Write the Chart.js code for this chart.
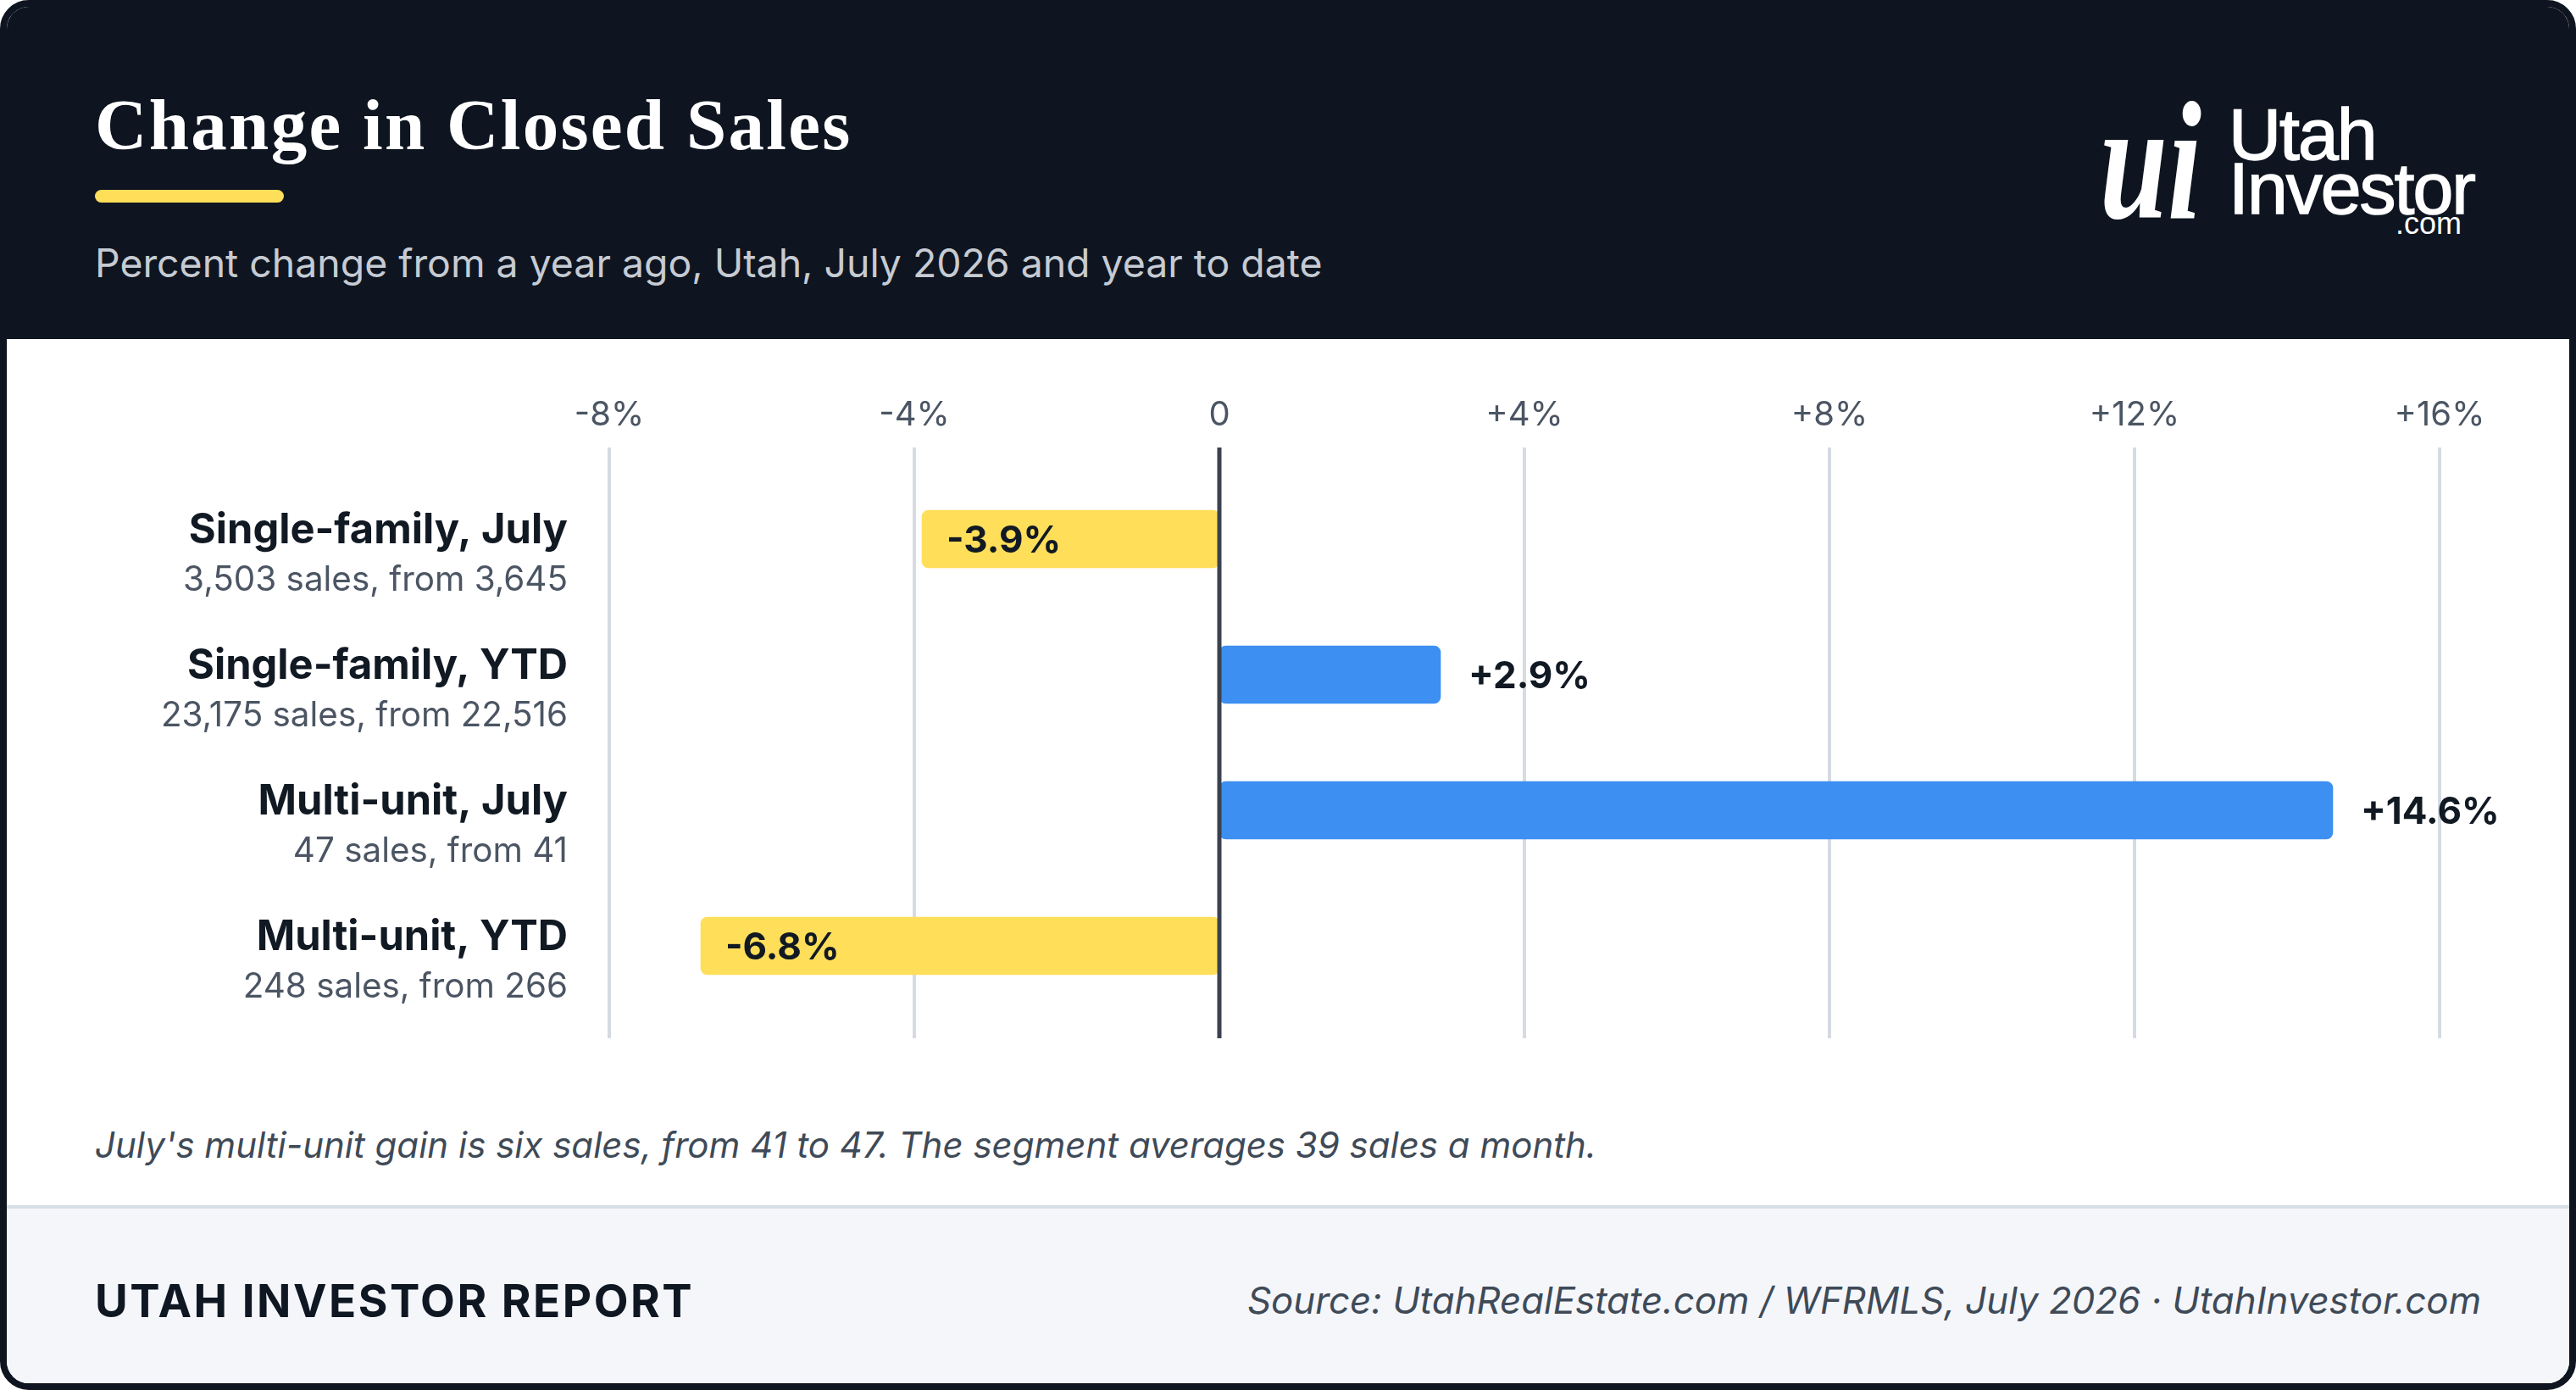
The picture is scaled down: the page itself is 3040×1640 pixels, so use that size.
<!DOCTYPE html>
<html>
<head>
<meta charset="utf-8">
<title>Change in Closed Sales</title>
<script src="https://cdn.jsdelivr.net/npm/chart.js@4.4.1/dist/chart.umd.min.js"></script>
<style>
  html, body { margin: 0; padding: 0; background: #ffffff; }
  body { width: 3040px; height: 1640px; position: relative; overflow: hidden; }
  .card {
    position: absolute; left: 0; top: 0; width: 3040px; height: 1640px;
    box-sizing: border-box; border: 8px solid #0e1520; border-radius: 34px;
    background: #ffffff; overflow: hidden;
  }
  .header { position: absolute; left: 0; top: 0; width: 3024px; height: 392px; background: #0e1520; }
  .title {
    position: absolute; left: 104px; top: 97px; line-height: 1; white-space: nowrap;
    font-family: "Liberation Serif", serif; font-weight: 700; font-size: 85px;
    letter-spacing: 2.3px; color: #ffffff;
  }
  .accent { position: absolute; left: 104px; top: 216px; width: 223px; height: 15px; border-radius: 8px; background: #ffde5a; }
  .subtitle {
    position: absolute; left: 104px; top: 279px; line-height: 1; white-space: nowrap;
    font-family: Inter, sans-serif; font-size: 46.4px; color: #c6cbd3;
  }
  .logo-mark {
    position: absolute; left: 2470px; top: 82px; line-height: 1;
    font-family: "Liberation Serif", serif; font-style: italic; font-weight: 700;
    font-size: 200px; color: #ffffff; transform: scaleX(0.72); transform-origin: left top;
  }
  .logo-word {
    position: absolute; left: 2622px; line-height: 1; white-space: nowrap;
    font-family: "Liberation Sans", Arial, sans-serif; font-size: 86px;
    letter-spacing: -2px; color: #ffffff; -webkit-text-stroke: 1.5px #ffffff;
  }
  .logo-dot {
    position: absolute; right: 127px; top: 238px; line-height: 1;
    font-family: "Liberation Sans", Arial, sans-serif; font-size: 36px; color: #ffffff;
  }
  #sales-chart { position: absolute; left: 0; top: 392px; width: 3024px; height: 880px; }
  .note {
    position: absolute; left: 104px; top: 1322px; line-height: 1; white-space: nowrap;
    font-family: Inter, sans-serif; font-style: italic; font-size: 42px; color: #3f4a57;
  }
  .footer {
    position: absolute; left: 0; top: 1414px; width: 3024px; height: 210px;
    border-top: 4px solid #d8dee6; background: #f4f6fa;
  }
  .brand {
    position: absolute; left: 104px; top: 83px; line-height: 1; white-space: nowrap;
    font-family: Inter, sans-serif; font-weight: 700; font-size: 53px;
    letter-spacing: 2.5px; color: #0f1722;
  }
  .source {
    position: absolute; right: 104px; top: 87px; line-height: 1; white-space: nowrap;
    font-family: Inter, sans-serif; font-style: italic; font-size: 43.8px; color: #3f4a57;
  }
</style>
</head>
<body>
<div class="card">
  <div class="header">
    <div class="title">Change in Closed Sales</div>
    <div class="accent"></div>
    <div class="subtitle">Percent change from a year ago, Utah, July 2026 and year to date</div>
    <div class="logo-mark">ui</div>
    <div class="logo-word" style="top:107px">Utah</div>
    <div class="logo-word" style="top:171px">Investor</div>
    <div class="logo-dot">.com</div>
  </div>
  <canvas id="sales-chart" width="3024" height="880"></canvas>
  <div class="note">July's multi-unit gain is six sales, from 41 to 47. The segment averages 39 sales a month.</div>
  <div class="footer">
    <div class="brand">UTAH INVESTOR REPORT</div>
    <div class="source">Source: UtahRealEstate.com / WFRMLS, July 2026 · UtahInvestor.com</div>
  </div>
</div>
<script>
// données du graphique
const categories = ["Single-family, July", "Single-family, YTD", "Multi-unit, July", "Multi-unit, YTD"];
const saleCounts = ["3,503 sales, from 3,645", "23,175 sales, from 22,516", "47 sales, from 41", "248 sales, from 266"];
const pctChange = [-3.9, 2.9, 14.6, -6.8];
const tickValues = [-8, -4, 0, 4, 8, 12, 16];

function fmtPct(v, digits) {
  if (v === 0) return "0";
  return (v > 0 ? "+" : "-") + Math.abs(v).toFixed(digits) + "%";
}

// grille, ligne zéro et étiquettes
const decorPlugin = {
  id: "decor",
  beforeDatasetsDraw(chart) {
    const { ctx, chartArea, scales } = chart;
    ctx.save();
    ctx.strokeStyle = "#d6dbe2";
    ctx.lineWidth = 4;
    tickValues.forEach((v) => {
      if (v === 0) return;
      const px = Math.round(scales.x.getPixelForValue(v));
      ctx.beginPath();
      ctx.moveTo(px, chartArea.top - 28);
      ctx.lineTo(px, chartArea.bottom + 29);
      ctx.stroke();
    });
    ctx.restore();
  },
  afterDatasetsDraw(chart) {
    const { ctx, chartArea, scales } = chart;
    const zero = Math.round(scales.x.getPixelForValue(0));
    ctx.save();
    ctx.strokeStyle = "#39424e";
    ctx.lineWidth = 5;
    ctx.beginPath();
    ctx.moveTo(zero, chartArea.top - 28);
    ctx.lineTo(zero, chartArea.bottom + 29);
    ctx.stroke();

    // valeurs
    const bars = chart.getDatasetMeta(0).data;
    ctx.font = "700 44px Inter";
    ctx.fillStyle = "#111923";
    ctx.textBaseline = "alphabetic";
    ctx.textAlign = "left";
    bars.forEach((bar, i) => {
      const v = pctChange[i];
      if (v < 0) {
        ctx.fillText(fmtPct(v, 1), Math.min(bar.x, bar.base) + 29, bar.y + 16);
      } else {
        ctx.fillText(fmtPct(v, 1), bar.x + 33, bar.y + 16);
      }
    });

    // libellés des catégories
    ctx.textAlign = "right";
    categories.forEach((name, i) => {
      const cy = scales.y.getPixelForValue(i);
      ctx.font = "700 48.8px Inter";
      ctx.fillStyle = "#111923";
      ctx.fillText(name, 662, cy + 5);
      ctx.font = "400 40.4px Inter";
      ctx.fillStyle = "#4b5563";
      ctx.fillText(saleCounts[i], 662, cy + 61);
    });
    ctx.restore();
  },
};

const ctx = document.getElementById("sales-chart").getContext("2d");
new Chart(ctx, {
  type: "bar",
  data: {
    labels: categories,
    datasets: [
      {
        data: pctChange,
        backgroundColor: pctChange.map((v) => (v < 0 ? "#ffde5a" : "#3d8ff1")),
        borderRadius: 8,
        borderSkipped: false,
        barThickness: 68,
      },
    ],
  },
  options: {
    indexAxis: "y",
    responsive: false,
    animation: false,
    layout: { padding: { left: 711, right: 153, top: 24, bottom: 84 } },
    plugins: { legend: { display: false }, tooltip: { enabled: false } },
    scales: {
      x: {
        position: "top",
        min: tickValues[0],
        max: tickValues[tickValues.length - 1],
        afterBuildTicks: (scale) => {
          scale.ticks = tickValues.map((v) => ({ value: v }));
        },
        grid: { display: false, drawTicks: false },
        border: { display: false },
        ticks: {
          padding: 42,
          color: "#4b5563",
          font: { family: "Inter", size: 40 },
          callback: (v) => fmtPct(v, 0),
        },
      },
      y: { display: false },
    },
  },
  plugins: [decorPlugin],
});
</script>
</body>
</html>
